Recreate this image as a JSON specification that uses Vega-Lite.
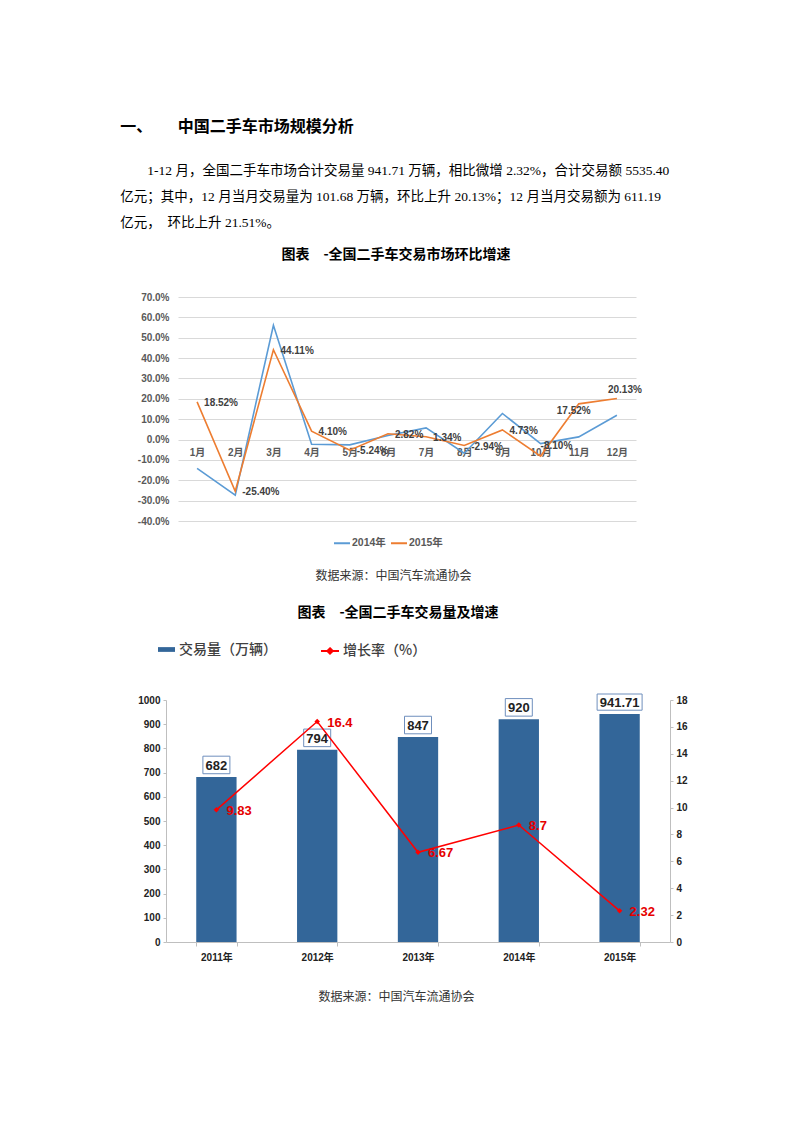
{
  "$schema": "https://vega.github.io/schema/vega-lite/v6.json",
  "background": "white",
  "padding": {"left": 120, "top": 118, "right": 10, "bottom": 20},
  "config": {
    "view": {"stroke": null},
    "font": "Liberation Sans",
    "locale": {"number": {"decimal": ".", "thousands": ",", "grouping": [3], "currency": ["", ""], "minus": "-"}}
  },
  "title": {
    "text": "一、\u00a0\u00a0\u00a0\u00a0\u00a0\u00a0\u00a0中国二手车市场规模分析",
    "subtitle": [
      "\u200b\u00a0\u00a0\u00a0\u00a0\u00a0\u00a0\u00a0\u00a01-12 月，全国二手车市场合计交易量 941.71 万辆，相比微增 2.32%，合计交易额 5535.40",
      "亿元；其中，12 月当月交易量为 101.68 万辆，环比上升 20.13%；12 月当月交易额为 611.19",
      "亿元，\u00a0 环比上升 21.51%。"
    ],
    "anchor": "start",
    "dx": -17,
    "font": "Noto Sans CJK SC",
    "fontSize": 16,
    "fontWeight": "bold",
    "color": "#000000",
    "subtitleFont": "Liberation Serif, Noto Sans CJK SC",
    "subtitleFontSize": 13.5,
    "subtitleColor": "#000000",
    "subtitleLineHeight": 26,
    "subtitlePadding": 29,
    "offset": 19
  },
  "spacing": 24,
  "resolve": {"scale": {"color": "independent", "fill": "independent", "stroke": "independent"}},
  "vconcat": [
    {
      "title": {"text": "数据来源：中国汽车流通协会", "orient": "bottom", "anchor": "middle", "dx": 4, "font": "Noto Sans CJK SC", "fontSize": 12, "fontWeight": "normal", "color": "#333333", "offset": 22},
      "resolve": {"scale": {"color": "independent", "fill": "independent", "stroke": "independent"}},
      "bounds": "flush",
      "spacing": 11,
      "hconcat": [
        {
          "width": 1,
          "height": 1,
          "data": {"values": []},
          "mark": "point",
          "encoding": {}
        },
        {
          "title": {"text": "图表　-全国二手车交易市场环比增速", "anchor": "middle", "dx": -11, "font": "Noto Sans CJK SC", "fontSize": 14, "fontWeight": "bold", "color": "#000000", "offset": 30},
          "width": 458,
          "height": 224,
          "data": {"values": [
            {"month": "1月", "series": "2014年", "value": -0.142},
            {"month": "2月", "series": "2014年", "value": -0.273},
            {"month": "3月", "series": "2014年", "value": 0.561},
            {"month": "4月", "series": "2014年", "value": -0.023},
            {"month": "5月", "series": "2014年", "value": -0.026},
            {"month": "6月", "series": "2014年", "value": 0.020},
            {"month": "7月", "series": "2014年", "value": 0.057},
            {"month": "8月", "series": "2014年", "value": -0.067},
            {"month": "9月", "series": "2014年", "value": 0.128},
            {"month": "10月", "series": "2014年", "value": -0.020},
            {"month": "11月", "series": "2014年", "value": 0.013},
            {"month": "12月", "series": "2014年", "value": 0.119},
            {"month": "1月", "series": "2015年", "value": 0.1852},
            {"month": "2月", "series": "2015年", "value": -0.2540},
            {"month": "3月", "series": "2015年", "value": 0.4411},
            {"month": "4月", "series": "2015年", "value": 0.0410},
            {"month": "5月", "series": "2015年", "value": -0.0524},
            {"month": "6月", "series": "2015年", "value": 0.0282},
            {"month": "7月", "series": "2015年", "value": 0.0134},
            {"month": "8月", "series": "2015年", "value": -0.0294},
            {"month": "9月", "series": "2015年", "value": 0.0473},
            {"month": "10月", "series": "2015年", "value": -0.0810},
            {"month": "11月", "series": "2015年", "value": 0.1752},
            {"month": "12月", "series": "2015年", "value": 0.2013}
          ]},
          "encoding": {
            "x": {"field": "month", "type": "ordinal", "sort": null,
              "axis": {"title": null, "orient": "bottom", "offset": -81, "domain": false, "ticks": false, "labelAngle": 0, "labelPadding": 7, "labelFontSize": 10, "labelFontWeight": "bold", "labelColor": "#595959", "labelFont": "Liberation Sans, Noto Sans CJK SC"}},
            "y": {"field": "value", "type": "quantitative",
              "scale": {"domain": [-0.4, 0.7], "nice": false, "zero": false},
              "axis": {"title": null, "format": ".1%", "values": [-0.4, -0.3, -0.2, -0.1, 0, 0.1, 0.2, 0.3, 0.4, 0.5, 0.6, 0.7], "grid": true, "gridColor": "#d9d9d9", "domain": false, "ticks": false, "labelPadding": 9, "labelFontSize": 10, "labelFontWeight": "bold", "labelColor": "#595959"}}
          },
          "layer": [
            {
              "mark": {"type": "line", "strokeWidth": 1.6},
              "encoding": {
                "color": {"field": "series", "type": "nominal",
                  "scale": {"domain": ["2014年", "2015年"], "range": ["#5b9bd5", "#ed7d31"]},
                  "legend": {"title": null, "orient": "none", "legendX": 155, "legendY": 237, "direction": "horizontal", "symbolType": "stroke", "symbolSize": 256, "symbolStrokeWidth": 2, "labelFontSize": 10.5, "labelFontWeight": "bold", "labelColor": "#595959", "labelFont": "Liberation Sans, Noto Sans CJK SC", "labelOffset": 1, "columnPadding": 1}}
              }
            },
            {
              "transform": [{"filter": {"field": "series", "equal": "2015年"}}, {"filter": {"not": {"field": "month", "oneOf": ["10月", "11月", "12月"]}}}],
              "mark": {"type": "text", "align": "left", "baseline": "middle", "dx": 7, "dy": 1, "fontSize": 10, "fontWeight": "bold", "color": "#404040"},
              "encoding": {"text": {"field": "value", "type": "quantitative", "format": ".2%"}}
            },
            {
              "transform": [{"filter": {"field": "series", "equal": "2015年"}}, {"filter": {"field": "month", "equal": "10月"}}],
              "mark": {"type": "text", "align": "left", "baseline": "middle", "dx": 0, "dy": -10, "fontSize": 10, "fontWeight": "bold", "color": "#404040"},
              "encoding": {"text": {"field": "value", "type": "quantitative", "format": ".2%"}}
            },
            {
              "transform": [{"filter": {"field": "series", "equal": "2015年"}}, {"filter": {"field": "month", "equal": "11月"}}],
              "mark": {"type": "text", "align": "center", "baseline": "middle", "dx": -5, "dy": 7, "fontSize": 10, "fontWeight": "bold", "color": "#404040"},
              "encoding": {"text": {"field": "value", "type": "quantitative", "format": ".2%"}}
            },
            {
              "transform": [{"filter": {"field": "series", "equal": "2015年"}}, {"filter": {"field": "month", "equal": "12月"}}],
              "mark": {"type": "text", "align": "center", "baseline": "middle", "dx": 8, "dy": -9, "fontSize": 10, "fontWeight": "bold", "color": "#404040"},
              "encoding": {"text": {"field": "value", "type": "quantitative", "format": ".2%"}}
            }
          ]
        }
      ]
    },
    {
      "title": {"text": "数据来源：中国汽车流通协会", "orient": "bottom", "anchor": "middle", "dx": -16, "font": "Noto Sans CJK SC", "fontSize": 12, "fontWeight": "normal", "color": "#333333", "offset": 30},
      "resolve": {"scale": {"color": "independent", "fill": "independent", "stroke": "independent"}},
      "vconcat": [
        {
          "title": {"text": "图表　-全国二手车交易量及增速", "anchor": "middle", "dx": -20, "font": "Noto Sans CJK SC", "fontSize": 14, "fontWeight": "bold", "color": "#000000", "offset": 21},
          "width": 504,
          "height": 242,
          "data": {"values": [
            {"year": "2011年", "volume": 682, "rate": 9.83},
            {"year": "2012年", "volume": 794, "rate": 16.4},
            {"year": "2013年", "volume": 847, "rate": 6.67},
            {"year": "2014年", "volume": 920, "rate": 8.7},
            {"year": "2015年", "volume": 941.71, "rate": 2.32}
          ]},
          "encoding": {
            "x": {"field": "year", "type": "nominal", "sort": null,
              "scale": {"paddingInner": 0.6, "paddingOuter": 0.3},
              "axis": {"title": null, "labelAngle": 0, "tickBand": "extent", "ticks": true, "tickSize": 4, "tickColor": "#bfbfbf", "domainColor": "#bfbfbf", "labelPadding": 6, "labelFontSize": 10, "labelFontWeight": "bold", "labelColor": "#222222", "labelFont": "Liberation Sans, Noto Sans CJK SC"}}
          },
          "layer": [
            {
              "encoding": {
                "y": {"field": "volume", "type": "quantitative", "scale": {"domain": [0, 1000], "nice": false},
                  "axis": {"title": null, "format": "d", "values": [0, 100, 200, 300, 400, 500, 600, 700, 800, 900, 1000], "grid": false, "domainColor": "#bfbfbf", "tickColor": "#bfbfbf", "tickSize": 3, "labelPadding": 3, "labelFontSize": 10, "labelFontWeight": "bold", "labelColor": "#222222"}}
              },
              "layer": [
                {
                  "mark": {"type": "bar"},
                  "encoding": {
                    "fill": {"datum": "交易量（万辆）", "type": "nominal", "scale": {"range": ["#336699"]},
                      "legend": {"title": null, "orient": "none", "legendX": -8, "legendY": -59, "symbolType": "M-1,-0.28H1V0.28H-1Z", "symbolSize": 289, "symbolStrokeWidth": 0, "labelFontSize": 14, "labelFont": "Noto Sans CJK SC", "labelFontWeight": 500, "labelColor": "#404040", "labelOffset": 4}}
                  }
                },
                {
                  "transform": [{"filter": {"not": {"field": "year", "equal": "2015年"}}}],
                  "mark": {"type": "point", "shape": "M-1,-0.65H1V0.65H-1Z", "size": 729, "filled": true, "fill": "white", "stroke": "#6f8fbd", "strokeWidth": 1, "opacity": 1, "yOffset": -12}
                },
                {
                  "transform": [{"filter": {"field": "year", "equal": "2015年"}}],
                  "mark": {"type": "point", "shape": "M-1,-0.36H1V0.36H-1Z", "size": 2025, "filled": true, "fill": "white", "stroke": "#6f8fbd", "strokeWidth": 1, "opacity": 1, "yOffset": -12}
                },
                {
                  "mark": {"type": "text", "baseline": "middle", "dy": -11, "fontSize": 13, "fontWeight": "bold", "color": "#222222"},
                  "encoding": {"text": {"field": "volume", "type": "nominal"}}
                }
              ]
            },
            {
              "encoding": {
                "y": {"field": "rate", "type": "quantitative", "scale": {"domain": [0, 18], "nice": false},
                  "axis": {"title": null, "orient": "right", "values": [0, 2, 4, 6, 8, 10, 12, 14, 16, 18], "grid": false, "domainColor": "#bfbfbf", "tickColor": "#bfbfbf", "tickSize": 3, "labelPadding": 3, "labelFontSize": 10, "labelFontWeight": "bold", "labelColor": "#222222"}}
              },
              "layer": [
                {
                  "mark": {"type": "line", "strokeWidth": 1.5},
                  "encoding": {
                    "stroke": {"datum": "增长率（%）", "type": "nominal", "scale": {"range": ["#ff0000"]},
                      "legend": {"title": null, "orient": "none", "legendX": 154, "legendY": -59, "symbolType": "M-1,0H1M0,-0.3L0.3,0L0,0.3L-0.3,0Z", "symbolSize": 324, "symbolStrokeWidth": 2, "labelFontSize": 14, "labelFont": "Noto Sans CJK SC", "labelFontWeight": 500, "labelColor": "#404040", "labelOffset": 3}}
                  }
                },
                {
                  "mark": {"type": "point", "shape": "diamond", "filled": true, "color": "#ff0000", "size": 30, "opacity": 1}
                },
                {
                  "mark": {"type": "text", "align": "left", "baseline": "middle", "dx": 10, "dy": 1, "fontSize": 13, "fontWeight": "bold", "color": "#e60000"},
                  "encoding": {"text": {"field": "rate", "type": "nominal"}}
                }
              ]
            }
          ],
          "resolve": {"scale": {"y": "independent"}}
        }
      ]
    }
  ]
}
